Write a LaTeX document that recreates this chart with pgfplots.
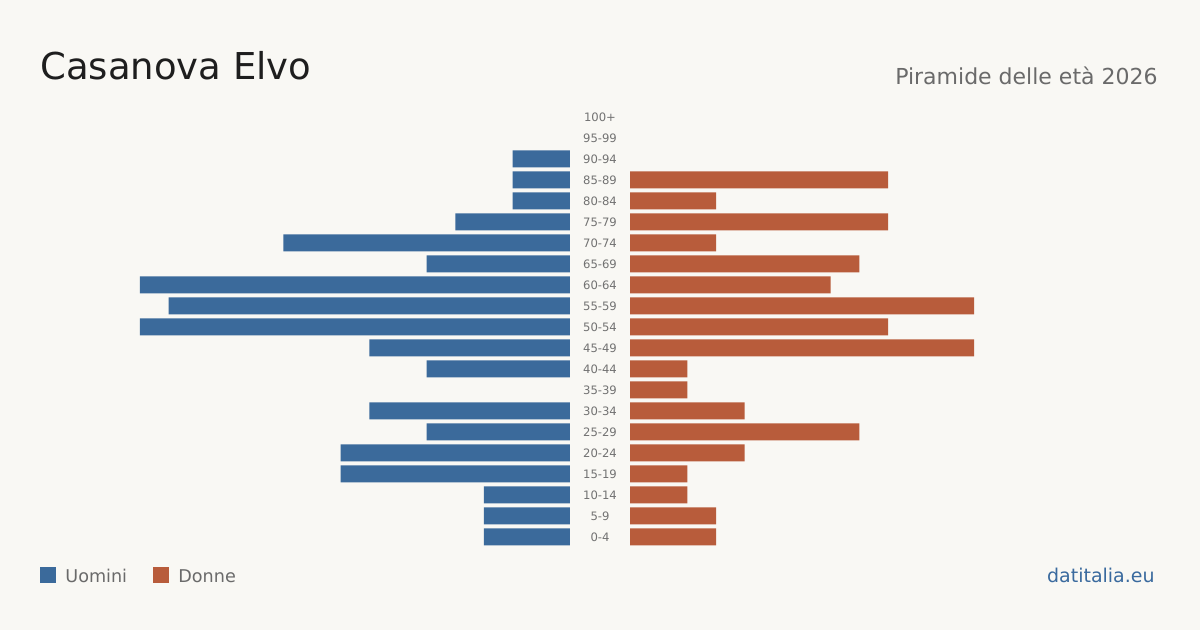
\documentclass[border=0pt]{standalone}
\usepackage{fontspec}
\setmainfont{DejaVu Sans}
\usepackage{pgfplots}
\pgfplotsset{compat=1.18}
\definecolor{bg}{HTML}{F9F8F4}
\definecolor{men}{HTML}{3B6A9B}
\definecolor{women}{HTML}{B85C3B}
\definecolor{txt}{HTML}{1E1E1E}
\definecolor{sub}{HTML}{6A6A6A}
\definecolor{lab}{HTML}{727272}
\definecolor{brand}{HTML}{3A6A9E}
\begin{document}
\begin{tikzpicture}
\fill[bg] (0,0) rectangle (600pt,315pt);
\node[anchor=base west, inner sep=0, text=txt, font=\fontsize{18.5pt}{22pt}\selectfont] at (20pt,275.3pt) {Casanova Elvo};
\node[anchor=base east, inner sep=0, text=sub, font=\fontsize{11pt}{13pt}\selectfont] at (579pt,272.5pt) {Piramide delle età 2026};
\fill[men] (20pt,23.5pt) rectangle (28pt,31.5pt);
\node[anchor=base west, inner sep=0, text=sub, font=\fontsize{8.8pt}{10pt}\selectfont] at (32.5pt,23.8pt) {Uomini};
\fill[women] (76.5pt,23.5pt) rectangle (84.5pt,31.5pt);
\node[anchor=base west, inner sep=0, text=sub, font=\fontsize{8.8pt}{10pt}\selectfont] at (89pt,23.8pt) {Donne};
\node[anchor=base east, inner sep=0, text=brand, font=\fontsize{9.5pt}{11pt}\selectfont] at (577.5pt,23.7pt) {datitalia.eu};
\pgfplotsset{pyr/.style={scale only axis, width=215pt, height=220.5pt,
  xmin=0, xmax=15, ymin=-0.5, ymax=20.5, axis line style={draw=none},
  xtick=\empty, major tick length=0pt, anchor=south west, clip=false}}
% zero-valued groups (men 35-39, 95-99, 100+; women 90-94, 95-99, 100+) draw no bar
\begin{axis}[pyr, at={(70pt,41.25pt)}, x dir=reverse, ytick=\empty]
\addplot[xbar, bar width=8.5pt, fill=men, draw=none] coordinates {
(3,0) (3,1) (3,2) (8,3) (8,4) (5,5) (7,6) (5,8) (7,9) (15,10)
(14,11) (15,12) (5,13) (10,14) (4,15) (2,16) (2,17) (2,18)};
\end{axis}
\begin{axis}[pyr, at={(315pt,41.25pt)}, ytick={0,...,20},
  yticklabels={0-4,5-9,10-14,15-19,20-24,25-29,30-34,35-39,40-44,45-49,50-54,55-59,60-64,65-69,70-74,75-79,80-84,85-89,90-94,95-99,100+},
  yticklabel style={anchor=center, xshift=-15pt, text=lab, font=\fontsize{5.8pt}{7pt}\selectfont}]
\addplot[xbar, bar width=8.5pt, fill=women, draw=none] coordinates {
(3,0) (3,1) (2,2) (2,3) (4,4) (8,5) (4,6) (2,7) (2,8) (12,9) (9,10)
(12,11) (7,12) (8,13) (3,14) (9,15) (3,16) (9,17)};
\end{axis}
\end{tikzpicture}
\end{document}
